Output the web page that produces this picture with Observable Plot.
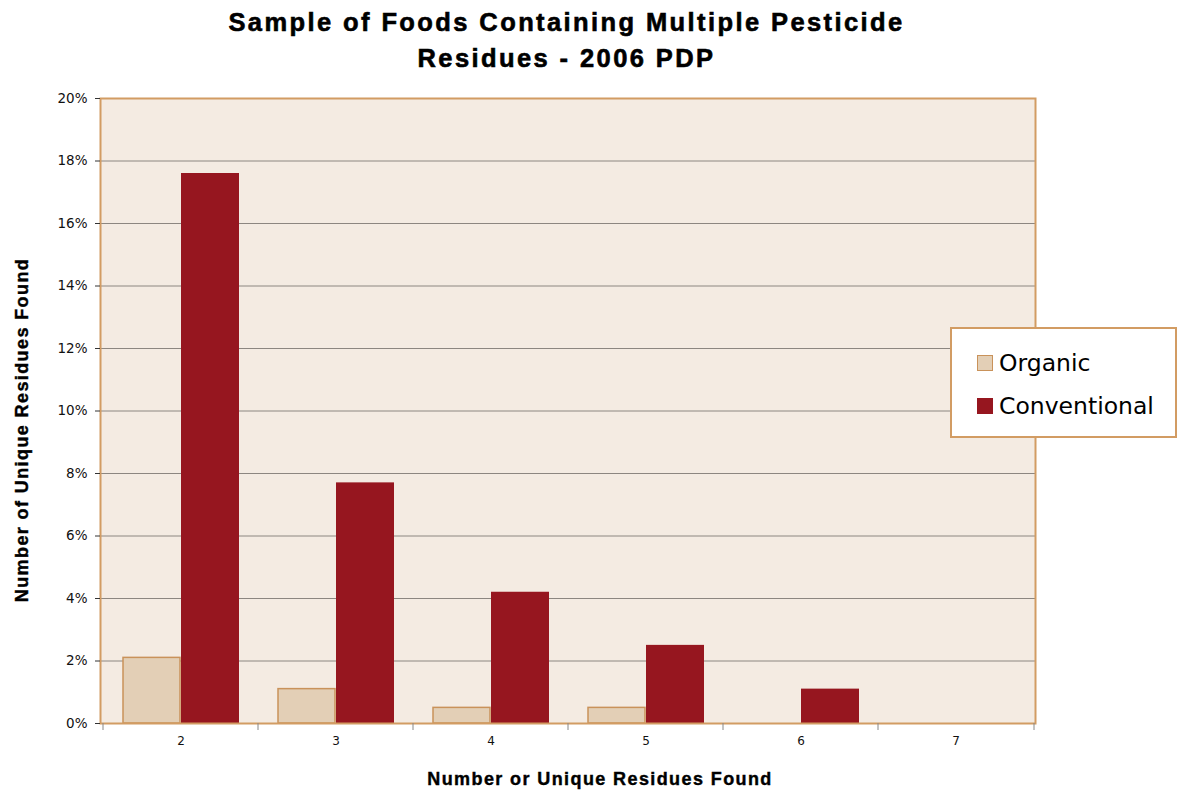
<!DOCTYPE html>
<html><head><meta charset="utf-8">
<script src="https://cdn.jsdelivr.net/npm/d3@7"></script>
<script src="https://cdn.jsdelivr.net/npm/@observablehq/plot@0.6"></script>
<style>
body{margin:0;background:#fff;font-family:"DejaVu Sans",sans-serif;}
#wrap{position:relative;width:1178px;height:798px;overflow:hidden;}
#title{position:absolute;left:0;width:1133px;top:4px;text-align:center;font-weight:bold;font-size:25.5px;letter-spacing:2.4px;line-height:36px;color:#000;font-family:"Liberation Sans",Arial,sans-serif;-webkit-text-stroke:0.6px #000;}
#chart{position:absolute;left:0;top:80px;}
.axl{position:absolute;white-space:nowrap;font-weight:bold;font-size:18px;letter-spacing:1.4px;font-family:"Liberation Sans",Arial,sans-serif;-webkit-text-stroke:0.4px #000;}
#ylab{left:22px;top:430px;transform:translate(-50%,-50%) rotate(-90deg);}
#xlab{left:600px;top:779px;transform:translate(-50%,-50%);}
#legend{position:absolute;left:950px;top:327px;width:223px;height:107px;background:#fff;border:2px solid #d29c63;}
.item{position:absolute;left:25px;display:flex;align-items:center;font-size:23.5px;white-space:nowrap;}
.sw{width:16px;height:16px;margin-right:6px;box-sizing:border-box;}
</style></head>
<body>
<div id="wrap">
  <div id="title">Sample of Foods Containing Multiple Pesticide<br>Residues - 2006 PDP</div>
  <div id="chart"></div>
  <div id="ylab" class="axl">Number of Unique Residues Found</div>
  <div id="xlab" class="axl">Number or Unique Residues Found</div>
  <div id="legend"></div>
</div>
<script>
const categories = [2, 3, 4, 5, 6, 7];
const organic = [2.1, 1.1, 0.5, 0.5, 0, 0];
const conventional = [17.6, 7.7, 4.2, 2.5, 1.1, 0];
const yTicks = [0, 2, 4, 6, 8, 10, 12, 14, 16, 18, 20];
const seriesNames = ["Organic", "Conventional"];

const colors = {
  bg: "#f4ebe2",
  organicFill: "#e3cfb6",
  organicStroke: "#c9925a",
  conventional: "#96161f",
  frame: "#d29c63",
  grid: "#8c8680"
};

const rows = categories.map((c, i) => ({cat: c, organic: organic[i], conventional: conventional[i]}));

const plot = Plot.plot({
  width: 1178,
  height: 718,
  marginLeft: 100,
  marginRight: 143,
  marginTop: 18,
  marginBottom: 75,
  style: {fontFamily: "'DejaVu Sans', sans-serif", background: "transparent", color: "#111"},
  x: {type: "band", domain: categories, padding: 0, label: null},
  y: {domain: [0, 20], label: null},
  marks: [
    Plot.frame({fill: colors.bg}),
    Plot.gridY(yTicks, {stroke: colors.grid, strokeOpacity: 1}),
    Plot.barY(rows, {x: "cat", y: "organic", fill: colors.organicFill, stroke: colors.organicStroke, strokeWidth: 1.5, insetLeft: 20, insetRight: 78}),
    Plot.barY(rows, {x: "cat", y: "conventional", fill: colors.conventional, insetLeft: 78, insetRight: 19}),
    Plot.frame({stroke: colors.frame, strokeWidth: 2}),
    Plot.axisY(yTicks, {tickFormat: d => d + "%", tickSize: 5, tickPadding: 8, fontSize: 13.5, label: null, stroke: "#333"}),
    Plot.axisX(categories, {tickSize: 0, tickPadding: 13, fontSize: 12, label: null}),
    Plot.axisX(categories, {tickSize: 7, tickFormat: () => "", dx: -78, stroke: "#888", label: null}),
    Plot.axisX([categories[categories.length - 1]], {tickSize: 7, tickFormat: () => "", dx: 78, stroke: "#888", label: null})
  ]
});
document.getElementById("chart").appendChild(plot);

const legend = document.getElementById("legend");
const swatchStyles = [
  {fill: colors.organicFill, stroke: colors.organicStroke},
  {fill: colors.conventional, stroke: colors.conventional}
];
seriesNames.forEach((name, i) => {
  const item = document.createElement("div");
  item.className = "item";
  item.style.top = (i === 0 ? 20 : 63) + "px";
  const sw = document.createElement("div");
  sw.className = "sw";
  sw.style.background = swatchStyles[i].fill;
  sw.style.border = "1.5px solid " + swatchStyles[i].stroke;
  item.appendChild(sw);
  const t = document.createElement("span");
  t.textContent = name;
  item.appendChild(t);
  legend.appendChild(item);
});
</script>
</body></html>
